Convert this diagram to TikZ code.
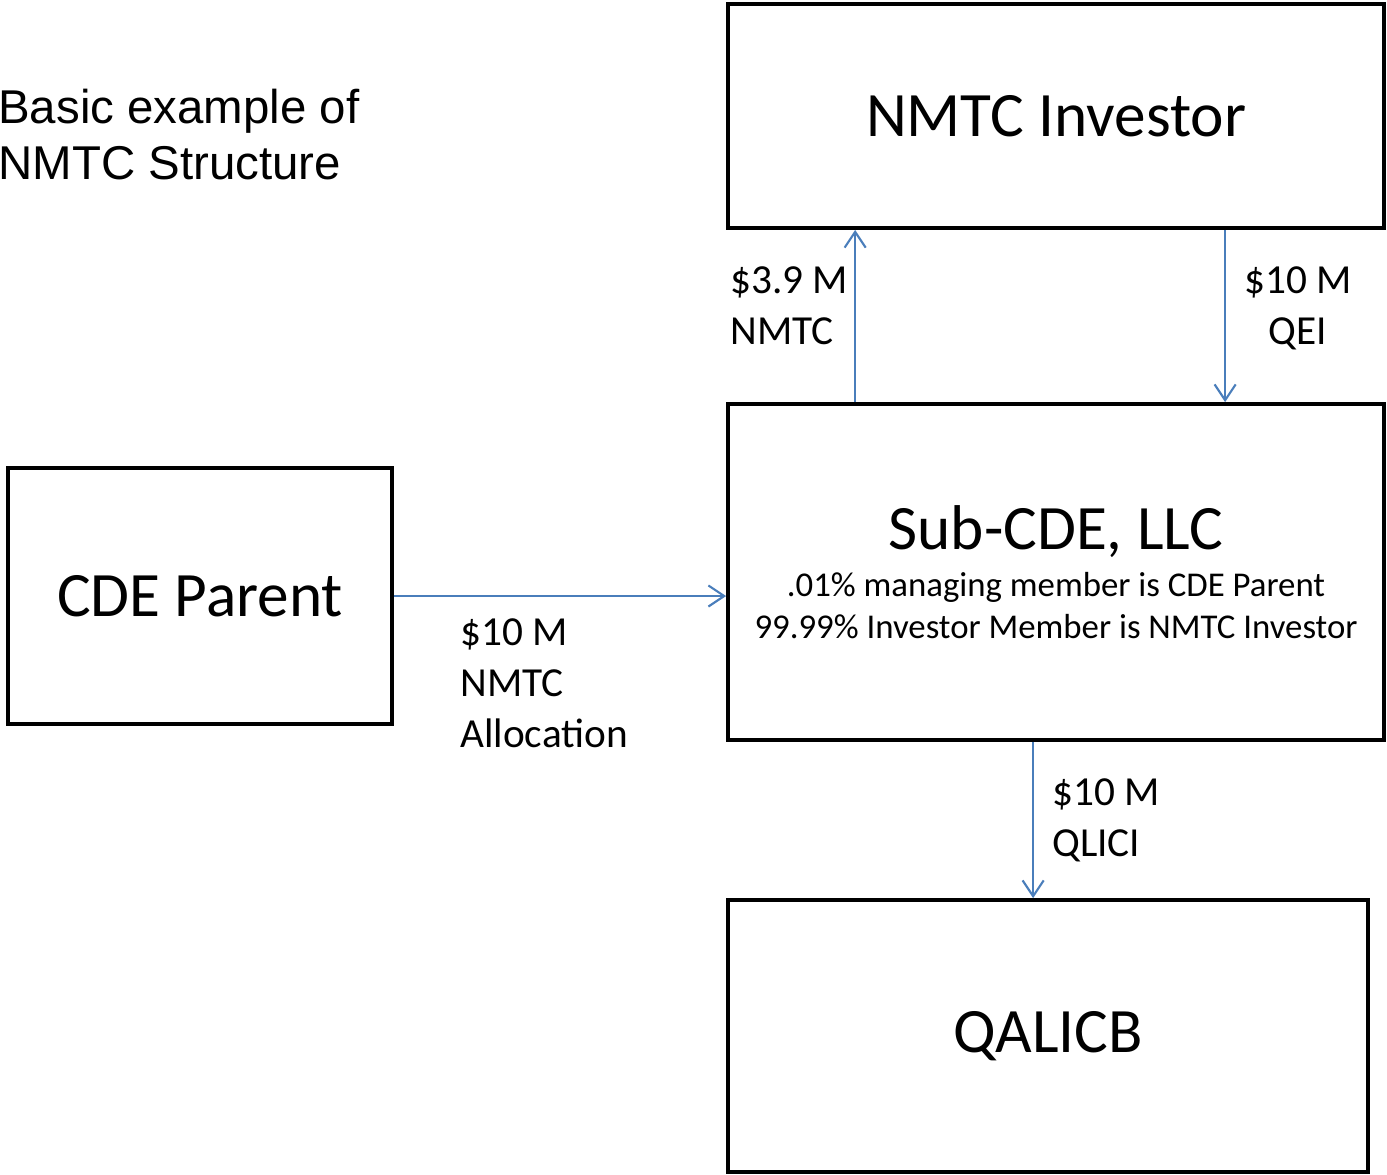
\documentclass[tikz,border=0pt]{standalone}
\usepackage{fontspec}
\setmainfont{Carlito}
\newfontfamily\titlefont{Liberation Sans}
\usepackage{tikz}
\usetikzlibrary{arrows.meta}
\usetikzlibrary{positioning}
\usetikzlibrary{calc}
\definecolor{FlowBlue}{RGB}{74,126,187}
\tikzstyle{entity} = [rectangle, draw=black, line width=2.2pt, text centered, font=\fontsize{36}{42}\selectfont]
\tikzstyle{flow} = [draw=FlowBlue, line width=1.2pt, -{Straight Barb[length=9pt, width=12pt]}]
\tikzstyle{amount} = [inner sep=0pt, font=\fontsize{23.5}{29}\selectfont]

\begin{document}
\begin{tikzpicture}[x=0.02cm, y=-0.02cm]
            \useasboundingbox (0,0) rectangle (1387,1174);
            % title
            \node[anchor=north west, inner sep=0pt, align=left, font=\titlefont\fontsize{27}{31.5}\selectfont] (title) at (-2,89) {Basic example of\\NMTC Structure};
            % boxes
            \node[entity, minimum width=13.12cm, minimum height=4.48cm] (investor) at (1056,116) {NMTC Investor};
            \node[entity, minimum width=13.12cm, minimum height=6.72cm, align=center, font=\fontsize{19.8}{23.8}\selectfont] (subcde) at (1056,572) {{\fontsize{36}{42}\selectfont Sub-CDE, LLC}\\[3pt]
                .01\% managing member is CDE Parent\\
                99.99\% Investor Member is NMTC Investor};
            \node[entity, minimum width=7.68cm, minimum height=5.12cm] (parent) at (200,596) {CDE Parent};
            \node[entity, minimum width=12.8cm, minimum height=5.44cm] (qalicb) at (1048,1036) {QALICB};
            % connectors
            \coordinate (upfoot) at ($(subcde.north west)+(129,0)$);
            \coordinate (downtop) at ($(investor.south west)+(499,0)$);
            \coordinate (qlicitop) at ($(subcde.south west)+(307,0)$);
            \draw[flow] (upfoot) -- (upfoot |- investor.south);
            \draw[flow] (downtop) -- (downtop |- subcde.north);
            \draw[flow] (parent.east) -- (parent.east -| subcde.west);
            \draw[flow] (qlicitop) -- (qlicitop |- qalicb.north);
            % amounts
            \node[amount, anchor=north west, align=left] (credit) at (730,266) {\$3.9 M\\NMTC};
            \node[amount, anchor=north, align=center] (qei) at (1298,266) {\$10 M\\QEI};
            \node[amount, anchor=north west, align=left] (alloc) at (460,618) {\$10 M\\NMTC\\Allocation};
            \node[amount, anchor=north west, align=left] (qlici) at (1052,778) {\$10 M\\QLICI};
        \end{tikzpicture}
\end{document}
